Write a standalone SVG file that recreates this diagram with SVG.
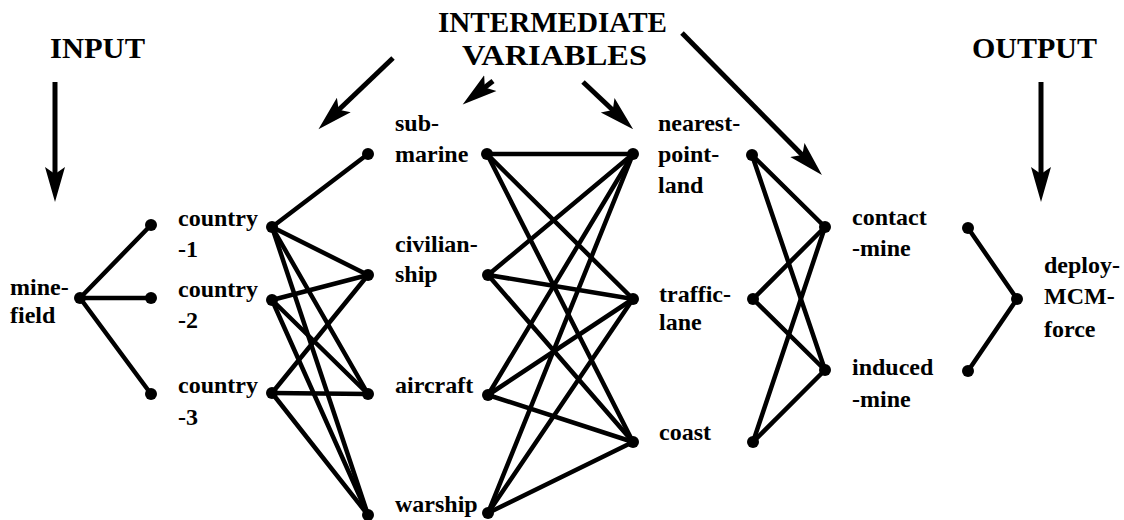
<svg xmlns="http://www.w3.org/2000/svg" width="1124" height="520" viewBox="0 0 1124 520">
<style>
  .lbl { font-family: "Liberation Serif", "Times New Roman", serif; font-weight: bold; font-size: 24px; fill: #000; }
  .hdr { font-family: "Liberation Serif", "Times New Roman", serif; font-weight: bold; font-size: 30px; fill: #000; }
  .edge { stroke: #000; stroke-width: 4.5; stroke-linecap: round; fill: none; }
  .arrow { stroke: #000; stroke-width: 5; fill: none; marker-end: url(#head); }
  .dot { fill: #000; }
</style>
<defs>
  <marker id="head" markerUnits="userSpaceOnUse" markerWidth="38" markerHeight="22" refX="8" refY="10" orient="auto" viewBox="0 0 38 20">
    <path d="M35,10 L0,0 L7,10 L0,20 Z" fill="#000"/>
  </marker>
</defs>
<rect width="1124" height="520" fill="#fff"/>

<g id="headers">
  <text class="hdr" x="50" y="58" textLength="95" lengthAdjust="spacingAndGlyphs">INPUT</text>
  <text class="hdr" x="972" y="58" textLength="125" lengthAdjust="spacingAndGlyphs">OUTPUT</text>
  <text class="hdr" x="438" y="32" textLength="229" lengthAdjust="spacingAndGlyphs">INTERMEDIATE</text>
  <text class="hdr" x="462" y="65" textLength="185" lengthAdjust="spacingAndGlyphs">VARIABLES</text>
</g>

<g id="arrows">
  <line class="arrow" x1="55" y1="82" x2="55" y2="175"/>
  <line class="arrow" x1="1041" y1="82" x2="1041" y2="175"/>
  <line class="arrow" x1="393" y1="58" x2="338" y2="110.5"/>
  <line class="arrow" x1="493" y1="81" x2="484" y2="88"/>
  <line class="arrow" x1="583" y1="82" x2="613.5" y2="110.7"/>
  <line class="arrow" x1="682" y1="33" x2="803" y2="155.8"/>
</g>

<g id="connectors">
  <!-- minefield -->
  <line class="edge" x1="80" y1="298" x2="151" y2="225"/>
  <line class="edge" x1="80" y1="298" x2="151" y2="298"/>
  <line class="edge" x1="80" y1="298" x2="151" y2="394"/>
  <!-- countries to vehicles -->
  <line class="edge" x1="272" y1="227" x2="368" y2="154"/>
  <line class="edge" x1="272" y1="227" x2="368" y2="275"/>
  <line class="edge" x1="272" y1="227" x2="368" y2="394"/>
  <line class="edge" x1="272" y1="227" x2="368" y2="515"/>
  <line class="edge" x1="272" y1="300" x2="368" y2="275"/>
  <line class="edge" x1="272" y1="300" x2="368" y2="394"/>
  <line class="edge" x1="272" y1="300" x2="368" y2="515"/>
  <line class="edge" x1="272" y1="393" x2="368" y2="275"/>
  <line class="edge" x1="272" y1="393" x2="368" y2="394"/>
  <line class="edge" x1="272" y1="393" x2="368" y2="515"/>
  <!-- vehicles to locations -->
  <line class="edge" x1="487" y1="154" x2="633" y2="154"/>
  <line class="edge" x1="487" y1="154" x2="633" y2="299"/>
  <line class="edge" x1="487" y1="154" x2="633" y2="442"/>
  <line class="edge" x1="488" y1="275" x2="633" y2="154"/>
  <line class="edge" x1="488" y1="275" x2="633" y2="299"/>
  <line class="edge" x1="488" y1="275" x2="633" y2="442"/>
  <line class="edge" x1="488" y1="395" x2="633" y2="154"/>
  <line class="edge" x1="488" y1="395" x2="633" y2="299"/>
  <line class="edge" x1="488" y1="395" x2="633" y2="442"/>
  <line class="edge" x1="488" y1="513" x2="633" y2="154"/>
  <line class="edge" x1="488" y1="513" x2="633" y2="299"/>
  <line class="edge" x1="488" y1="513" x2="633" y2="442"/>
  <!-- locations to mine types -->
  <line class="edge" x1="752" y1="155" x2="825" y2="227"/>
  <line class="edge" x1="752" y1="155" x2="825" y2="370"/>
  <line class="edge" x1="753" y1="299" x2="825" y2="227"/>
  <line class="edge" x1="753" y1="299" x2="825" y2="370"/>
  <line class="edge" x1="753" y1="442" x2="825" y2="227"/>
  <line class="edge" x1="753" y1="442" x2="825" y2="370"/>
  <!-- mine types to output -->
  <line class="edge" x1="968" y1="228" x2="1017" y2="299"/>
  <line class="edge" x1="968" y1="371" x2="1017" y2="299"/>
</g>

<g id="node-minefield">
  <circle class="dot" cx="80" cy="298" r="6"/>
  <text class="lbl" x="10" y="295">mine-</text>
  <text class="lbl" x="10" y="323">field</text>
</g>
<g id="node-country-1">
  <circle class="dot" cx="151" cy="225" r="6"/>
  <circle class="dot" cx="272" cy="227" r="6"/>
  <text class="lbl" x="178" y="226">country</text>
  <text class="lbl" x="178" y="257">-1</text>
</g>
<g id="node-country-2">
  <circle class="dot" cx="151" cy="298" r="6"/>
  <circle class="dot" cx="272" cy="300" r="6"/>
  <text class="lbl" x="178" y="297">country</text>
  <text class="lbl" x="178" y="328">-2</text>
</g>
<g id="node-country-3">
  <circle class="dot" cx="151" cy="394" r="6"/>
  <circle class="dot" cx="272" cy="393" r="6"/>
  <text class="lbl" x="178" y="393">country</text>
  <text class="lbl" x="178" y="425">-3</text>
</g>
<g id="node-submarine">
  <circle class="dot" cx="368" cy="154" r="6"/>
  <circle class="dot" cx="487" cy="154" r="6"/>
  <text class="lbl" x="395" y="131">sub-</text>
  <text class="lbl" x="395" y="162">marine</text>
</g>
<g id="node-civilianship">
  <circle class="dot" cx="368" cy="275" r="6"/>
  <circle class="dot" cx="488" cy="275" r="6"/>
  <text class="lbl" x="395" y="252">civilian-</text>
  <text class="lbl" x="395" y="282">ship</text>
</g>
<g id="node-aircraft">
  <circle class="dot" cx="368" cy="394" r="6"/>
  <circle class="dot" cx="488" cy="395" r="6"/>
  <text class="lbl" x="395" y="393">aircraft</text>
</g>
<g id="node-warship">
  <circle class="dot" cx="368" cy="515" r="6"/>
  <circle class="dot" cx="488" cy="513" r="6"/>
  <text class="lbl" x="395" y="512">warship</text>
</g>
<g id="node-nearest-point-land">
  <circle class="dot" cx="633" cy="154" r="6"/>
  <circle class="dot" cx="752" cy="155" r="6"/>
  <text class="lbl" x="658" y="131">nearest-</text>
  <text class="lbl" x="658" y="162">point-</text>
  <text class="lbl" x="658" y="193">land</text>
</g>
<g id="node-traffic-lane">
  <circle class="dot" cx="633" cy="299" r="6"/>
  <circle class="dot" cx="753" cy="299" r="6"/>
  <text class="lbl" x="659" y="302">traffic-</text>
  <text class="lbl" x="659" y="330">lane</text>
</g>
<g id="node-coast">
  <circle class="dot" cx="633" cy="442" r="6"/>
  <circle class="dot" cx="753" cy="442" r="6"/>
  <text class="lbl" x="659" y="440">coast</text>
</g>
<g id="node-contact-mine">
  <circle class="dot" cx="825" cy="227" r="6"/>
  <circle class="dot" cx="968" cy="228" r="6"/>
  <text class="lbl" x="852" y="225">contact</text>
  <text class="lbl" x="852" y="256">-mine</text>
</g>
<g id="node-induced-mine">
  <circle class="dot" cx="825" cy="370" r="6"/>
  <circle class="dot" cx="968" cy="371" r="6"/>
  <text class="lbl" x="852" y="375">induced</text>
  <text class="lbl" x="852" y="407">-mine</text>
</g>
<g id="node-deploy-MCM-force">
  <circle class="dot" cx="1017" cy="299" r="6"/>
  <text class="lbl" x="1044" y="273">deploy-</text>
  <text class="lbl" x="1044" y="304">MCM-</text>
  <text class="lbl" x="1044" y="337">force</text>
</g>
</svg>
